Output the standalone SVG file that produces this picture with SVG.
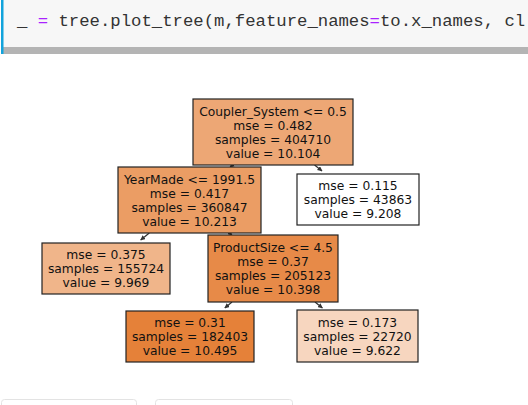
<svg xmlns="http://www.w3.org/2000/svg" width="528" height="405" viewBox="0 0 528 405">
<defs>
<style>
.box{stroke:#222;stroke-width:1.2}
.t{font-family:"DejaVu Sans",sans-serif;font-size:12.3px;fill:#111;text-anchor:middle}
.code{font-family:"Liberation Mono","DejaVu Sans Mono",monospace;font-size:17.3px;fill:#333}
.op{fill:#aa22ff}
.edge{stroke:#333;stroke-width:1.2;fill:none;marker-end:url(#ah)}
.card{fill:#fff;stroke:#e3e3e3;stroke-width:1}
</style>
<marker id="ah" viewBox="0 0 10 10" refX="9" refY="5" markerWidth="5" markerHeight="5" orient="auto" markerUnits="userSpaceOnUse">
<path d="M0,0 L10,5 L0,10 z" fill="#333"/>
</marker>
</defs>
<rect x="0" y="0" width="528" height="405" fill="#fff"/>
<g id="code-cell">
<rect x="3" y="0" width="525" height="47" fill="#f7f7f7"/>
<rect x="3" y="47" width="525" height="7" fill="#b4b4b4"/>
<rect x="1" y="0" width="2.5" height="54" fill="#12a3dc"/>
<text class="code" x="17" y="26" xml:space="preserve">_ <tspan class="op">=</tspan> tree.plot_tree(m,feature_names<tspan class="op">=</tspan>to.x_names, cl</text>
</g>
<g id="connectors">
<path class="edge" d="M232.5,165 L230,167.5"/>
<path class="edge" d="M314.6,165 L322,171"/>
<path class="edge" d="M149.3,233 L140.7,240"/>
<path class="edge" d="M229.7,233 L232,235.5"/>
<path class="edge" d="M232,302 L224.8,308"/>
<path class="edge" d="M315,302 L322.4,308"/>
</g>
<g id="node-root">
<rect class="box" x="193" y="99" width="160" height="66" fill="#eda775"/>
<text class="t" x="273" y="115.5">Coupler_System &lt;= 0.5</text>
<text class="t" x="273" y="129.5">mse = 0.482</text>
<text class="t" x="273" y="143.5">samples = 404710</text>
<text class="t" x="273" y="157.5">value = 10.104</text>
</g>
<g id="node-yearmade">
<rect class="box" x="118" y="167" width="143" height="66" fill="#eb9d64"/>
<text class="t" x="189.5" y="183.5">YearMade &lt;= 1991.5</text>
<text class="t" x="189.5" y="197.5">mse = 0.417</text>
<text class="t" x="189.5" y="211.5">samples = 360847</text>
<text class="t" x="189.5" y="225.5">value = 10.213</text>
</g>
<g id="node-right">
<rect class="box" x="297" y="174" width="122" height="51" fill="#ffffff"/>
<text class="t" x="358" y="190">mse = 0.115</text>
<text class="t" x="358" y="204">samples = 43863</text>
<text class="t" x="358" y="218">value = 9.208</text>
</g>
<g id="node-ll">
<rect class="box" x="42" y="243" width="128" height="51" fill="#f0b58a"/>
<text class="t" x="106" y="259">mse = 0.375</text>
<text class="t" x="106" y="273">samples = 155724</text>
<text class="t" x="106" y="287">value = 9.969</text>
</g>
<g id="node-productsize">
<rect class="box" x="208" y="235" width="130" height="67" fill="#e78a48"/>
<text class="t" x="273" y="252">ProductSize &lt;= 4.5</text>
<text class="t" x="273" y="266">mse = 0.37</text>
<text class="t" x="273" y="280">samples = 205123</text>
<text class="t" x="273" y="294">value = 10.398</text>
</g>
<g id="node-bl">
<rect class="box" x="126" y="311" width="128" height="51" fill="#e58139"/>
<text class="t" x="190" y="327">mse = 0.31</text>
<text class="t" x="190" y="341">samples = 182403</text>
<text class="t" x="190" y="355">value = 10.495</text>
</g>
<g id="node-br">
<rect class="box" x="297" y="310" width="121" height="52" fill="#f7d6bf"/>
<text class="t" x="357.5" y="326.5">mse = 0.173</text>
<text class="t" x="357.5" y="340.5">samples = 22720</text>
<text class="t" x="357.5" y="354.5">value = 9.622</text>
</g>
<g id="bottom-cards">
<rect class="card" x="1.5" y="399.5" width="135" height="20" rx="3"/>
<rect class="card" x="155.5" y="399.5" width="137" height="20" rx="3"/>
</g>
</svg>
